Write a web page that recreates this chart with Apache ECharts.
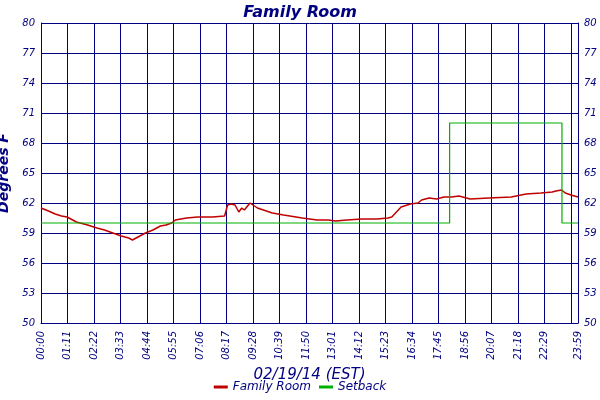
<!DOCTYPE html>
<html><head><meta charset="utf-8">
<script src="https://cdn.jsdelivr.net/npm/echarts@6/dist/echarts.min.js"></script>
<style>html,body{margin:0;padding:0;background:#fff}#c{width:600px;height:400px}</style>
</head><body><div id="c"></div>
<script>
// minutes after midnight
const roomMinutes = [0,20,38,55,70,95,125,150,170,200,215,225,235,245,260,280,300,320,335,350,360,375,390,420,460,492,500,505,510,520,530,538,545,560,580,620,650,700,740,770,790,820,860,900,930,940,950,965,990,1010,1020,1040,1060,1080,1100,1120,1150,1200,1260,1300,1340,1370,1380,1395,1405,1420,1439];
const roomTemps   = [61.5,61.2,60.9,60.7,60.6,60.1,59.8,59.5,59.3,58.9,58.7,58.6,58.5,58.3,58.6,59.0,59.3,59.7,59.8,60.0,60.3,60.4,60.5,60.6,60.6,60.7,61.8,61.7,61.9,61.8,61.1,61.5,61.3,62.0,61.5,61.0,60.8,60.5,60.3,60.3,60.2,60.3,60.4,60.4,60.5,60.6,61.0,61.6,61.9,62.0,62.3,62.5,62.4,62.6,62.6,62.7,62.4,62.5,62.6,62.9,63.0,63.1,63.2,63.3,63.0,62.8,62.6];
const setbackMinutes = [0,1095,1095,1396,1396,1439];
const setbackTemps   = [60,60,70,70,60,60];
const yTicks = {min:50,max:80,interval:3};

function hhmm(v){v=Math.round(v);const h=Math.floor(v/60),m=v%60;return String(h).padStart(2,'0')+':'+String(m).padStart(2,'0');}
const navy='#000080';
const font='DejaVu Sans';
const chart=echarts.init(document.getElementById('c'));
const yAx=(pos)=>({type:'value',position:pos,min:yTicks.min,max:yTicks.max,interval:yTicks.interval,
  axisLine:{show:true,lineStyle:{color:navy,width:1}},axisTick:{show:false},
  axisLabel:{color:navy,fontStyle:'italic',fontFamily:font,fontSize:10,margin:6},
  splitLine:{show:pos==='left',lineStyle:{color:navy,width:1}}});
chart.setOption({
  animation:false,
  title:{text:'Family Room',left:'center',top:0,textStyle:{color:navy,fontStyle:'italic',fontWeight:'bold',fontFamily:font,fontSize:16}},
  grid:{left:41,right:22,top:23,bottom:77,containLabel:false,outerBoundsMode:'none'},
  legend:{bottom:2,left:'center',itemWidth:14,itemHeight:3,icon:'rect',textStyle:{color:navy,fontStyle:'italic',fontFamily:font,fontSize:12},data:['Family Room','Setback']},
  xAxis:{type:'value',min:0,max:1439,interval:71,
    name:'02/19/14 (EST)',nameLocation:'middle',nameGap:44,nameTextStyle:{color:navy,fontStyle:'italic',fontFamily:font,fontSize:15},
    axisLine:{lineStyle:{color:navy}},axisTick:{show:false},
    axisLabel:{rotate:90,color:navy,fontStyle:'italic',fontFamily:font,fontSize:10,formatter:hhmm,showMaxLabel:true},
    splitLine:{show:true,lineStyle:{color:navy,width:1}}},
  yAxis:[Object.assign(yAx('left'),{name:'Degrees F',nameLocation:'middle',nameGap:26,nameTextStyle:{color:navy,fontStyle:'italic',fontWeight:'bold',fontFamily:font,fontSize:14}}),yAx('right')],
  series:[
    {name:'Family Room',type:'line',showSymbol:false,lineStyle:{color:'#c00000',width:1.5},itemStyle:{color:'#c00000'},data:roomMinutes.map((m,i)=>[m,roomTemps[i]])},
    {name:'Setback',type:'line',showSymbol:false,lineStyle:{color:'#00b000',width:1.2},itemStyle:{color:'#00b000'},data:setbackMinutes.map((m,i)=>[m,setbackTemps[i]])}
  ]
});
</script></body></html>
